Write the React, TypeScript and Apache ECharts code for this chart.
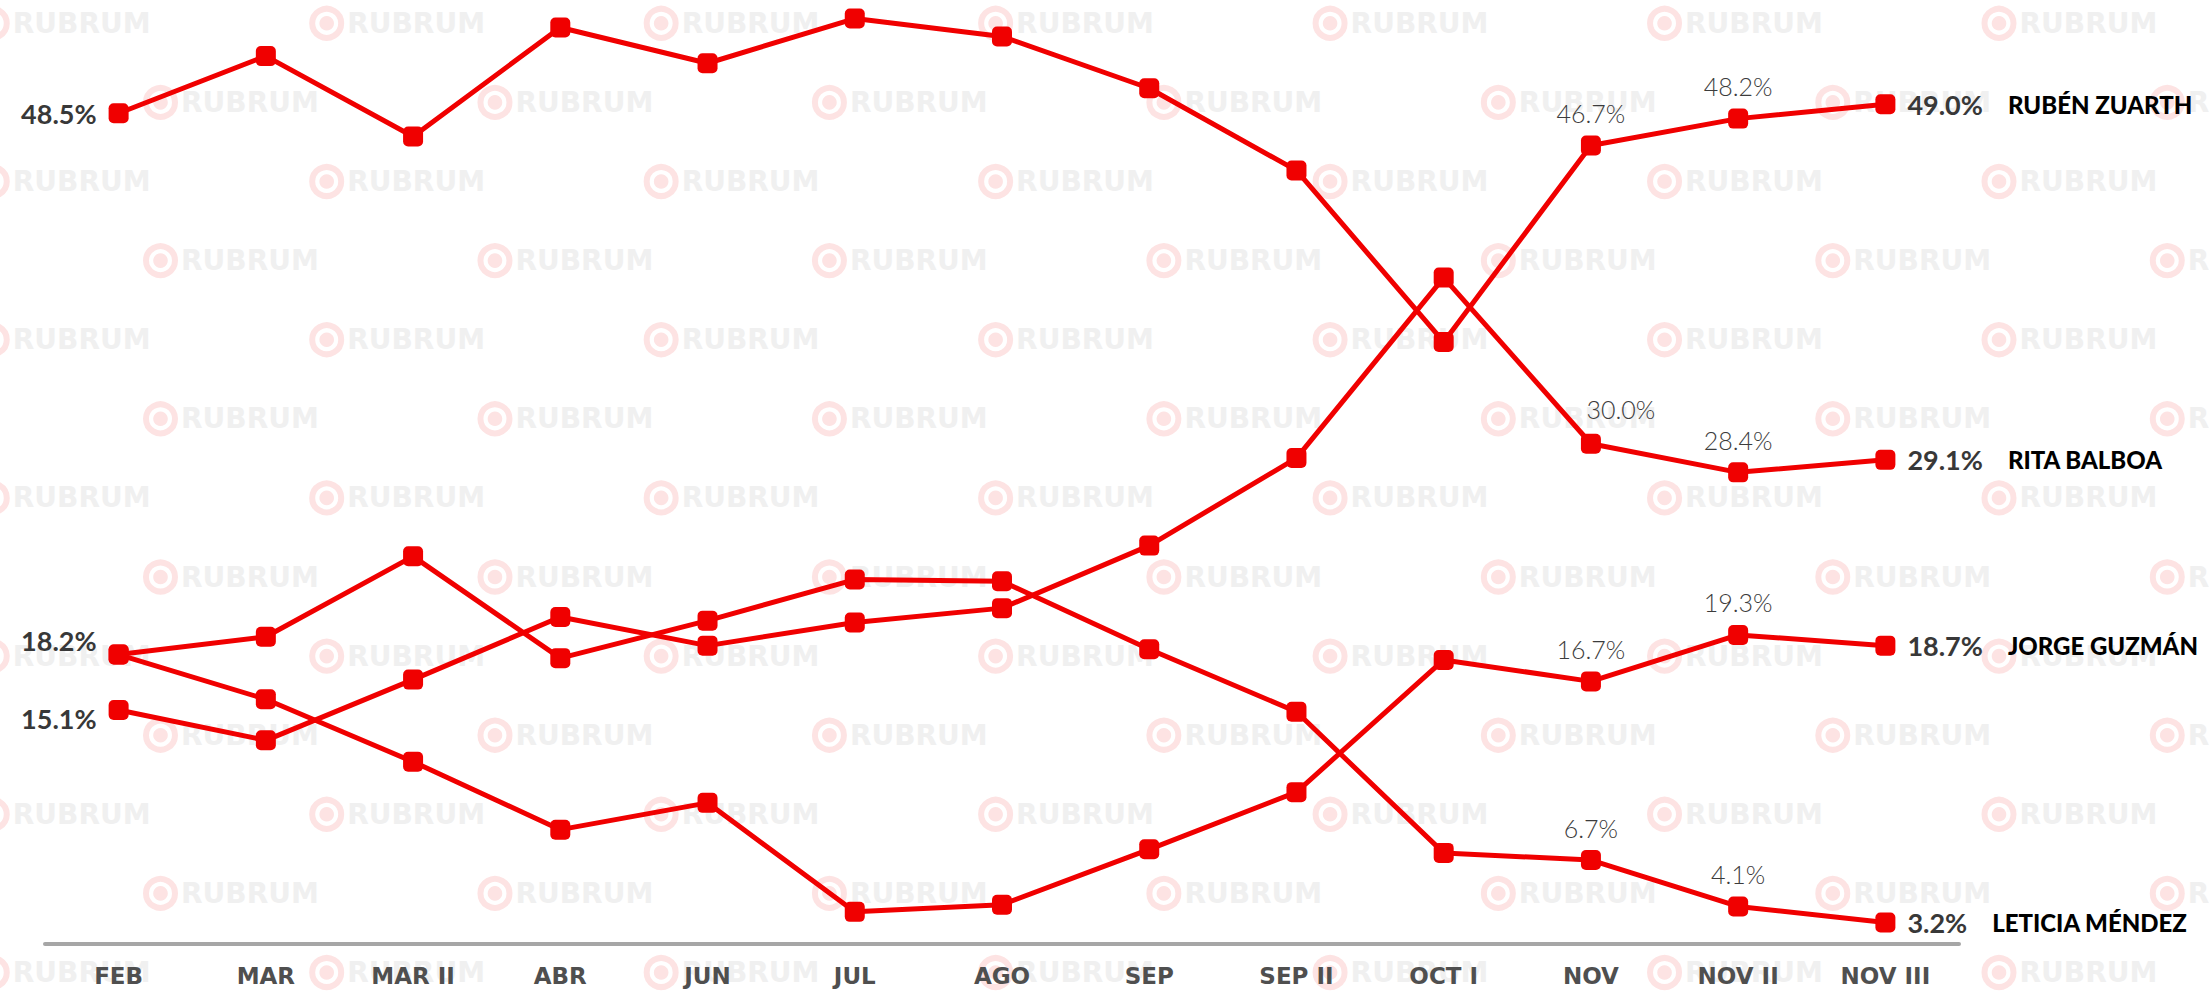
import React, { useEffect, useRef } from "react";
import * as echarts from "echarts";

// ---- Data ----
const categories = ["FEB", "MAR", "MAR II", "ABR", "JUN", "JUL", "AGO", "SEP", "SEP II", "OCT I", "NOV", "NOV II", "NOV III"];
const candidateNames = ["RUBÉN ZUARTH", "RITA BALBOA", "JORGE GUZMÁN", "LETICIA MÉNDEZ"];
const rubenZuarth = [48.5, 51.7, 47.2, 53.3, 51.3, 53.8, 52.8, 49.9, 45.3, 35.7, 46.7, 48.2, 49.0];
const ritaBalboa = [15.1, 13.4, 16.8, 20.3, 18.7, 20.0, 20.8, 24.3, 29.2, 39.3, 30.0, 28.4, 29.1];
const jorgeGuzman = [18.2, 15.7, 12.2, 8.4, 9.9, 3.8, 4.2, 7.3, 10.5, 17.9, 16.7, 19.3, 18.7];
const leticiaMendez = [18.2, 19.2, 23.7, 18.0, 20.1, 22.4, 22.3, 18.5, 15.0, 7.1, 6.7, 4.1, 3.2];
const watermarkText = "RUBRUM";

const RED = "#f00000";
const PINK = "#fde3e3";

const pct = (v: number) => v.toFixed(1) + "%";

function buildSeries(
  name: string,
  values: number[],
  cfg: { firstLabel: boolean; firstOffset?: number[]; midOffsets?: Record<number, number[]> }
) {
  const last = values.length - 1;
  const data = values.map((v, i) => {
    if (i === 0 && cfg.firstLabel) {
      return {
        value: v,
        label: {
          show: true,
          position: "left",
          distance: 12,
          offset: cfg.firstOffset || [0, 0],
          formatter: pct(v),
          fontFamily: "Lato",
          fontWeight: "bold",
          fontSize: 27,
          color: "#383838",
        },
      };
    }
    if (i === last) {
      return {
        value: v,
        label: {
          show: true,
          position: "right",
          distance: 12,
          formatter: `{v|${pct(v)}}{n|${name}}`,
          rich: {
            v: { fontFamily: "Lato", fontWeight: "bold", fontSize: 27, color: "#383838" },
            n: { fontFamily: "Lato", fontWeight: 900, fontSize: 24, color: "#000000", padding: [0, 0, 0, 25] },
          },
        },
      };
    }
    if (i === last - 1 || i === last - 2) {
      return {
        value: v,
        label: {
          show: true,
          position: "top",
          distance: 10,
          offset: (cfg.midOffsets && cfg.midOffsets[i]) || [0, 0],
          formatter: pct(v),
          fontFamily: "Lato",
          fontWeight: 300,
          fontSize: 25,
          color: "#3c3c3c",
        },
      };
    }
    return { value: v };
  });
  return {
    type: "line",
    name,
    data,
    symbol: "roundRect",
    symbolSize: 20,
    lineStyle: { color: RED, width: 5 },
    itemStyle: { color: RED },
    label: { show: false },
    emphasis: { disabled: true },
    silent: true,
    z: 3,
  };
}

function buildWatermark() {
  const els: any[] = [];
  const rows = 13;
  for (let r = 0; r < rows; r++) {
    const y = 23.3 + 79.1 * r;
    const startX = r % 2 === 0 ? 326.7 : 160.5;
    for (let k = -1; k <= 6; k++) {
      const x = startX + 334.46 * k;
      if (x < -200 || x > 2230) continue;
      els.push({
        type: "group",
        x,
        y,
        z: -1,
        silent: true,
        children: [
          { type: "circle", z: -1, shape: { cx: 0, cy: 0, r: 14.5 }, style: { fill: "none", stroke: PINK, lineWidth: 6 } },
          { type: "circle", z: -1, shape: { cx: 0, cy: 0, r: 7.3 }, style: { fill: PINK } },
          {
            type: "text",
            z: -1,
            x: 20.5,
            y: 0,
            style: {
              text: watermarkText,
              fill: "#f0f0f0",
              font: "bold 28px 'DejaVu Sans'",
              textAlign: "left",
              verticalAlign: "middle",
            },
          },
        ],
      });
    }
  }
  return els;
}

export default function App() {
  const ref = useRef<HTMLDivElement>(null);
  useEffect(() => {
    if (!ref.current) return;
    const chart = echarts.init(ref.current, null, { renderer: "svg" });
    const option: any = {
      animation: false,
      backgroundColor: "#ffffff",
      grid: { left: 45, right: 250, top: 15, bottom: 47, containLabel: false },
      xAxis: {
        type: "category",
        data: categories,
        boundaryGap: true,
        axisLine: { show: true, lineStyle: { color: "#a6a6a6", width: 4 } },
        axisTick: { show: false },
        splitLine: { show: false },
        axisLabel: {
          interval: 0,
          color: "#4f4f4f",
          fontFamily: "DejaVu Sans",
          fontWeight: "bold",
          fontSize: 23,
          margin: 20,
        },
      },
      yAxis: { type: "value", min: 2, max: 54, show: false, splitLine: { show: false } },
      series: [
        buildSeries(candidateNames[0], rubenZuarth, { firstLabel: true }),
        buildSeries(candidateNames[1], ritaBalboa, { firstLabel: true, firstOffset: [0, 9], midOffsets: { 10: [30, -2] } }),
        buildSeries(candidateNames[2], jorgeGuzman, { firstLabel: true, firstOffset: [0, -14] }),
        buildSeries(candidateNames[3], leticiaMendez, { firstLabel: false }),
      ],
      graphic: { elements: buildWatermark() },
    };
    chart.setOption(option);
    return () => chart.dispose();
  }, []);
  return (
    <div
      ref={ref}
      style={{ position: "fixed", left: 0, top: 0, width: 2209, height: 991, background: "#fff" }}
    />
  );
}
